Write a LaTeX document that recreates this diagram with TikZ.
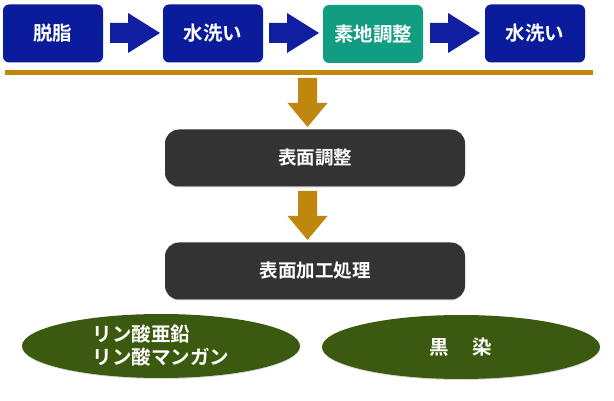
\documentclass[tikz,border=0pt]{standalone}
\usepackage{fontspec}
\setmainfont{Noto Sans CJK JP}[BoldFont={* Bold}]
\usetikzlibrary{shapes.geometric,shadows}
\definecolor{boxblue}{HTML}{0A1C9C}
\definecolor{arrblue}{HTML}{0F1FA0}
\definecolor{teal}{HTML}{119D82}
\definecolor{gold}{HTML}{C0870E}
\definecolor{darkbox}{HTML}{333333}
\definecolor{olive}{HTML}{3C5A0F}
\tikzset{
  topbox/.style={rounded corners=6pt, minimum width=100pt, minimum height=58pt, inner sep=0pt,
    text=white, font=\bfseries\fontsize{19.5}{22}\selectfont},
  darkproc/.style={fill=darkbox, rounded corners=14pt, minimum width=300pt, minimum height=57pt,
    inner sep=0pt, text=white, font=\bfseries\fontsize{18.5}{21}\selectfont,
    drop shadow={shadow xshift=0pt, shadow yshift=-1pt, opacity=0.35}},
  ovalbox/.style={ellipse, fill=olive, minimum width=278pt, minimum height=64pt, inner sep=0pt,
    text=white, font=\bfseries\fontsize{19.5}{23}\selectfont, align=left,
    drop shadow={shadow xshift=0pt, shadow yshift=-1pt, opacity=0.3}},
}
\begin{document}
\begin{tikzpicture}[x=1pt,y=-1pt]
\useasboundingbox (0,0) rectangle (614,401);
% top row boxes
\node[topbox, fill=boxblue] (b1) at (53,33.5) {脱脂};
\node[topbox, fill=boxblue] (b2) at (213,33.5) {水洗い};
\node[topbox, fill=teal] (b3) at (373,34) {素地調整};
\node[topbox, fill=boxblue] (b4) at (535,33.5) {水洗い};
% right arrows
\foreach \x in {110,269,430}{
  \fill[arrblue] (\x,23) -- (\x+18,23) -- (\x+18,13) -- (\x+50,33) -- (\x+18,53) -- (\x+18,43) -- (\x,43) -- cycle;
}
% gold line
\fill[gold] (5,70) rectangle (593,75);
% process boxes
\node[darkproc] (p1) at (315,158) {表面調整};
\node[darkproc] (p2) at (315,271) {表面加工処理};
% down arrows
\coordinate (a1) at (307.5,78);
\coordinate (a2) at (307.5,191);
\foreach \c in {a1,a2}{
  \fill[gold] ([xshift=-9.5pt]\c) -- ([xshift=9.5pt]\c) -- ([xshift=9.5pt,yshift=-25pt]\c)
     -- ([xshift=20pt,yshift=-25pt]\c) -- ([yshift=-49pt]\c) -- ([xshift=-20pt,yshift=-25pt]\c)
     -- ([xshift=-9.5pt,yshift=-25pt]\c) -- cycle;
}
% ovals
\node[ovalbox] (o1) at (161,346) {リン酸亜鉛\\リン酸マンガン};
\node[ovalbox] (o2) at (461,347) {黒\hspace{1.2em}染};
\end{tikzpicture}
\end{document}
